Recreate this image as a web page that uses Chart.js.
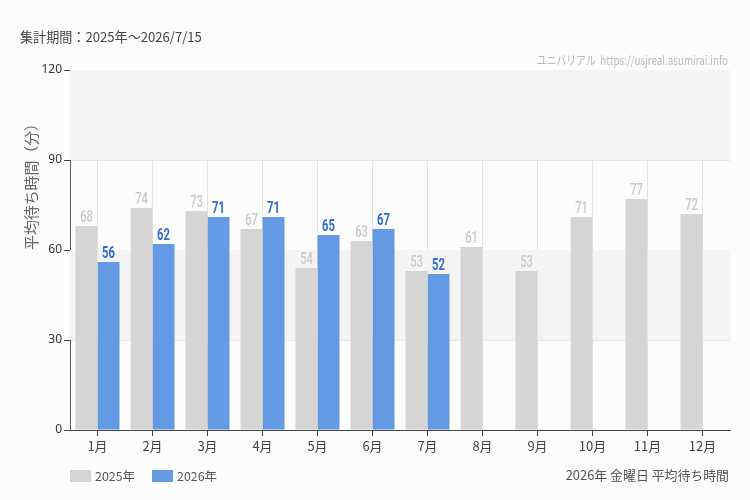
<!DOCTYPE html>
<html>
<head>
<meta charset="utf-8">
<script src="https://cdn.jsdelivr.net/npm/chart.js@4"></script>
<style>
  html, body { margin: 0; padding: 0; background: #fcfdfb; }
  #wrap { width: 750px; height: 500px; position: relative; }
</style>
</head>
<body>
<div id="wrap"><canvas id="chart"></canvas></div>
<script>
const months = ["1月", "2月", "3月", "4月", "5月", "6月", "7月", "8月", "9月", "10月", "11月", "12月"];
const wait2025 = [68, 74, 73, 67, 54, 63, 53, 61, 53, 71, 77, 72];
const wait2026 = [56, 62, 71, 71, 65, 67, 52, null, null, null, null, null];
const yTicks = [0, 30, 60, 90, 120];

const grayBar = "#d5d6d4";
const blueBar = "#6499e3";
const jpFont = "'Noto Sans CJK JP'";

// pick a font size so the text gets the wanted width
function fitFont(ctx, text, base, target, weight) {
  ctx.font = (weight || "") + " " + base + "px " + jpFont;
  const w = ctx.measureText(text).width;
  const size = Math.max(8, Math.min(30, base * target / w));
  ctx.font = (weight || "") + " " + size.toFixed(1) + "px " + jpFont;
}

const decor = {
  id: "decor",
  beforeDatasetsDraw(chart) {
    const { ctx, chartArea: a, scales: { y } } = chart;
    ctx.save();
    ctx.fillStyle = "#f4f4f4";
    [[30, 60], [90, 120]].forEach(([lo, hi]) => {
      const top = y.getPixelForValue(hi), bot = y.getPixelForValue(lo);
      ctx.fillRect(a.left, top, a.right - a.left, bot - top);
    });
    ctx.restore();
  },
  afterDatasetsDraw(chart) {
    const { ctx } = chart;
    ctx.save();
    ctx.textAlign = "center";
    ctx.textBaseline = "bottom";
    chart.data.datasets.forEach((ds, i) => {
      const meta = chart.getDatasetMeta(i);
      ctx.fillStyle = i === 0 ? "#c9c9c9" : "#2d6bd0";
      meta.data.forEach((bar, j) => {
        const v = ds.data[j];
        if (v == null) return;
        ctx.save();
        ctx.translate(bar.x, bar.y);
        ctx.scale(0.7, 1);
        ctx.font = (i === 0 ? "500 " : "bold ") + "16px Roboto";
        ctx.fillText(String(v), 0, 0);
        ctx.restore();
      });
    });
    ctx.restore();
  },
  afterDraw(chart) {
    const { ctx, chartArea: a } = chart;
    ctx.save();
    ctx.textBaseline = "middle";
    ctx.fillStyle = "#444";
    ctx.textAlign = "left";
    const title = "集計期間：2025年～2026/7/15";
    fitFont(ctx, title, 13, 182);
    ctx.fillText(title, 20, 37);

    ctx.fillStyle = "#b8b8b8";
    ctx.textAlign = "right";
    ctx.save();
    ctx.translate(a.right - 2, 60);
    ctx.scale(0.82, 1);
    ctx.font = "12px " + jpFont;
    ctx.fillText("ユニバリアル  https://usjreal.asumirai.info", 0, 0);
    ctx.restore();

    // y title
    const yTitle = "平均待ち時間（分）";
    ctx.save();
    ctx.translate(31, 183);
    ctx.rotate(-Math.PI / 2);
    ctx.textAlign = "center";
    ctx.fillStyle = "#666";
    fitFont(ctx, yTitle, 15, 134);
    ctx.fillText(yTitle, 0, 0);
    ctx.restore();

    // legend
    ctx.textAlign = "left";
    ctx.fillStyle = grayBar;
    ctx.fillRect(70, 470, 21, 12);
    ctx.fillStyle = blueBar;
    ctx.fillRect(152, 470, 21, 12);
    ctx.fillStyle = "#555";
    fitFont(ctx, "2025年", 13, 40);
    ctx.fillText("2025年", 95, 476);
    ctx.fillText("2026年", 177, 476);

    ctx.textAlign = "right";
    const note = "2026年 金曜日 平均待ち時間";
    fitFont(ctx, note, 13, 164);
    ctx.fillText(note, a.right - 1, 475);
    ctx.restore();
  }
};

new Chart(document.getElementById("chart"), {
  type: "bar",
  data: {
    labels: months,
    datasets: [
      { label: "2025年", data: wait2025, backgroundColor: grayBar },
      { label: "2026年", data: wait2026, backgroundColor: blueBar }
    ]
  },
  options: {
    responsive: true,
    maintainAspectRatio: false,
    animation: false,
    layout: { padding: { top: 70, right: 20, left: 0, bottom: 0 } },
    plugins: { legend: { display: false }, tooltip: { enabled: false } },
    datasets: { bar: { categoryPercentage: 0.8, barPercentage: 1.0 } },
    scales: {
      x: {
        afterFit(s) { s.height = 70; },
        grid: { offset: false, color: "#e3e3e3", tickLength: 6, tickColor: "#444" },
        border: { color: "#444" },
        ticks: { color: "#444", font: { size: 13, family: jpFont }, padding: 2 }
      },
      y: {
        min: 0, max: 120,
        afterFit(s) { s.width = 70; },
        afterBuildTicks(s) { s.ticks = yTicks.map(v => ({ value: v })); },
        grid: { color: "#e8e8e8", tickLength: 6, tickColor: "#444" },
        border: { color: "#555" },
        ticks: { color: "#333", font: { size: 12, family: "'Noto Sans'" }, padding: 2 }
      }
    }
  },
  plugins: [decor]
});
</script>
</body>
</html>
